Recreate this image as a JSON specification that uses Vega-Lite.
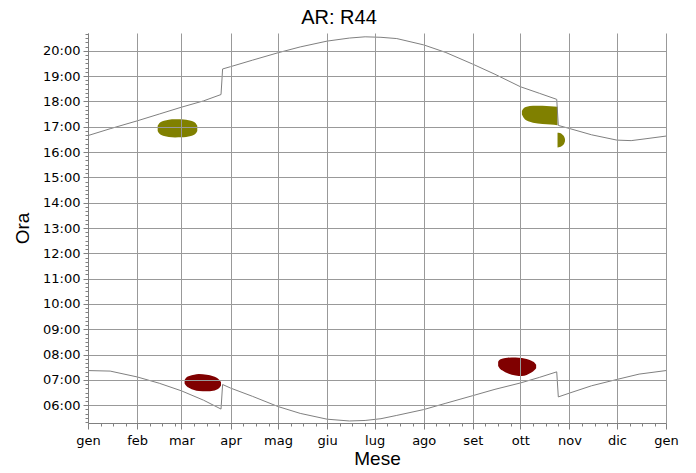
{
  "$schema": "https://vega.github.io/schema/vega-lite/v6.json",
  "width": 578,
  "height": 390,
  "autosize": "none",
  "padding": {"left": 88, "top": 33, "right": 30, "bottom": 50},
  "background": "white",
  "title": {"text": "AR: R44", "font": "Liberation Sans", "fontSize": 20, "fontWeight": "normal", "color": "#000000", "dx": -38, "dy": 9, "offset": 9},
  "datasets": {
    "curve": [
      {"evento": "tramonto", "data": "2023-01-01T00:00", "ora": 16.65},
      {"evento": "tramonto", "data": "2023-01-15T00:00", "ora": 16.92},
      {"evento": "tramonto", "data": "2023-02-01T00:00", "ora": 17.23},
      {"evento": "tramonto", "data": "2023-02-15T00:00", "ora": 17.50},
      {"evento": "tramonto", "data": "2023-03-01T00:00", "ora": 17.77},
      {"evento": "tramonto", "data": "2023-03-15T00:00", "ora": 18.02},
      {"evento": "tramonto", "data": "2023-03-26T00:00", "ora": 18.27},
      {"evento": "tramonto", "data": "2023-03-27T00:00", "ora": 19.28},
      {"evento": "tramonto", "data": "2023-04-01T00:00", "ora": 19.37},
      {"evento": "tramonto", "data": "2023-04-15T00:00", "ora": 19.63},
      {"evento": "tramonto", "data": "2023-05-01T00:00", "ora": 19.92},
      {"evento": "tramonto", "data": "2023-05-15T00:00", "ora": 20.15},
      {"evento": "tramonto", "data": "2023-06-01T00:00", "ora": 20.38},
      {"evento": "tramonto", "data": "2023-06-15T00:00", "ora": 20.50},
      {"evento": "tramonto", "data": "2023-06-25T00:00", "ora": 20.55},
      {"evento": "tramonto", "data": "2023-07-05T00:00", "ora": 20.53},
      {"evento": "tramonto", "data": "2023-07-15T00:00", "ora": 20.48},
      {"evento": "tramonto", "data": "2023-08-01T00:00", "ora": 20.23},
      {"evento": "tramonto", "data": "2023-08-15T00:00", "ora": 19.93},
      {"evento": "tramonto", "data": "2023-09-01T00:00", "ora": 19.47},
      {"evento": "tramonto", "data": "2023-09-15T00:00", "ora": 19.07},
      {"evento": "tramonto", "data": "2023-10-01T00:00", "ora": 18.58},
      {"evento": "tramonto", "data": "2023-10-13T00:00", "ora": 18.32},
      {"evento": "tramonto", "data": "2023-10-24T00:00", "ora": 18.08},
      {"evento": "tramonto", "data": "2023-10-25T00:00", "ora": 17.05},
      {"evento": "tramonto", "data": "2023-11-01T00:00", "ora": 16.93},
      {"evento": "tramonto", "data": "2023-11-15T00:00", "ora": 16.68},
      {"evento": "tramonto", "data": "2023-12-01T00:00", "ora": 16.47},
      {"evento": "tramonto", "data": "2023-12-10T00:00", "ora": 16.45},
      {"evento": "tramonto", "data": "2023-12-20T00:00", "ora": 16.53},
      {"evento": "tramonto", "data": "2024-01-01T00:00", "ora": 16.63},
      {"evento": "alba", "data": "2023-01-01T00:00", "ora": 7.37},
      {"evento": "alba", "data": "2023-01-15T00:00", "ora": 7.35},
      {"evento": "alba", "data": "2023-02-01T00:00", "ora": 7.12},
      {"evento": "alba", "data": "2023-02-15T00:00", "ora": 6.87},
      {"evento": "alba", "data": "2023-03-01T00:00", "ora": 6.57},
      {"evento": "alba", "data": "2023-03-15T00:00", "ora": 6.20},
      {"evento": "alba", "data": "2023-03-26T00:00", "ora": 5.85},
      {"evento": "alba", "data": "2023-03-27T00:00", "ora": 6.82},
      {"evento": "alba", "data": "2023-04-01T00:00", "ora": 6.68},
      {"evento": "alba", "data": "2023-04-15T00:00", "ora": 6.35},
      {"evento": "alba", "data": "2023-05-01T00:00", "ora": 5.95},
      {"evento": "alba", "data": "2023-05-15T00:00", "ora": 5.68},
      {"evento": "alba", "data": "2023-06-01T00:00", "ora": 5.45},
      {"evento": "alba", "data": "2023-06-15T00:00", "ora": 5.38},
      {"evento": "alba", "data": "2023-06-25T00:00", "ora": 5.40},
      {"evento": "alba", "data": "2023-07-05T00:00", "ora": 5.47},
      {"evento": "alba", "data": "2023-07-15T00:00", "ora": 5.60},
      {"evento": "alba", "data": "2023-08-01T00:00", "ora": 5.83},
      {"evento": "alba", "data": "2023-08-15T00:00", "ora": 6.08},
      {"evento": "alba", "data": "2023-09-01T00:00", "ora": 6.38},
      {"evento": "alba", "data": "2023-09-15T00:00", "ora": 6.63},
      {"evento": "alba", "data": "2023-10-01T00:00", "ora": 6.88},
      {"evento": "alba", "data": "2023-10-13T00:00", "ora": 7.10},
      {"evento": "alba", "data": "2023-10-24T00:00", "ora": 7.32},
      {"evento": "alba", "data": "2023-10-25T00:00", "ora": 6.33},
      {"evento": "alba", "data": "2023-11-01T00:00", "ora": 6.48},
      {"evento": "alba", "data": "2023-11-15T00:00", "ora": 6.77},
      {"evento": "alba", "data": "2023-12-01T00:00", "ora": 7.02},
      {"evento": "alba", "data": "2023-12-15T00:00", "ora": 7.23},
      {"evento": "alba", "data": "2024-01-01T00:00", "ora": 7.37}
    ],
    "macchie": [
      {"macchia": "A", "tipo": "tramonto", "data": "2023-02-14T00:00", "ora": 16.835, "ora2": 17.035},
      {"macchia": "A", "tipo": "tramonto", "data": "2023-02-15T00:00", "ora": 16.73, "ora2": 17.14},
      {"macchia": "A", "tipo": "tramonto", "data": "2023-02-16T00:00", "ora": 16.685, "ora2": 17.185},
      {"macchia": "A", "tipo": "tramonto", "data": "2023-02-18T00:00", "ora": 16.635, "ora2": 17.235},
      {"macchia": "A", "tipo": "tramonto", "data": "2023-02-21T00:00", "ora": 16.597, "ora2": 17.273},
      {"macchia": "A", "tipo": "tramonto", "data": "2023-02-25T00:00", "ora": 16.578, "ora2": 17.292},
      {"macchia": "A", "tipo": "tramonto", "data": "2023-03-01T00:00", "ora": 16.58, "ora2": 17.29},
      {"macchia": "A", "tipo": "tramonto", "data": "2023-03-04T00:00", "ora": 16.597, "ora2": 17.273},
      {"macchia": "A", "tipo": "tramonto", "data": "2023-03-07T00:00", "ora": 16.635, "ora2": 17.235},
      {"macchia": "A", "tipo": "tramonto", "data": "2023-03-09T00:00", "ora": 16.685, "ora2": 17.185},
      {"macchia": "A", "tipo": "tramonto", "data": "2023-03-10T00:00", "ora": 16.73, "ora2": 17.14},
      {"macchia": "A", "tipo": "tramonto", "data": "2023-03-11T00:00", "ora": 16.835, "ora2": 17.035},
      {"macchia": "B", "tipo": "tramonto", "data": "2023-10-02T00:00", "ora": 17.48, "ora2": 17.62},
      {"macchia": "B", "tipo": "tramonto", "data": "2023-10-03T00:00", "ora": 17.36, "ora2": 17.72},
      {"macchia": "B", "tipo": "tramonto", "data": "2023-10-05T00:00", "ora": 17.24, "ora2": 17.79},
      {"macchia": "B", "tipo": "tramonto", "data": "2023-10-09T00:00", "ora": 17.16, "ora2": 17.83},
      {"macchia": "B", "tipo": "tramonto", "data": "2023-10-15T00:00", "ora": 17.11, "ora2": 17.83},
      {"macchia": "B", "tipo": "tramonto", "data": "2023-10-20T00:00", "ora": 17.09, "ora2": 17.81},
      {"macchia": "B", "tipo": "tramonto", "data": "2023-10-24T12:00", "ora": 17.06, "ora2": 17.79},
      {"macchia": "C", "tipo": "tramonto", "data": "2023-10-24T12:00", "ora": 16.18, "ora2": 16.76},
      {"macchia": "C", "tipo": "tramonto", "data": "2023-10-26T00:00", "ora": 16.20, "ora2": 16.75},
      {"macchia": "C", "tipo": "tramonto", "data": "2023-10-27T00:00", "ora": 16.23, "ora2": 16.72},
      {"macchia": "C", "tipo": "tramonto", "data": "2023-10-28T00:00", "ora": 16.28, "ora2": 16.66},
      {"macchia": "C", "tipo": "tramonto", "data": "2023-10-28T17:00", "ora": 16.34, "ora2": 16.60},
      {"macchia": "C", "tipo": "tramonto", "data": "2023-10-29T05:00", "ora": 16.43, "ora2": 16.51},
      {"macchia": "D", "tipo": "alba", "data": "2023-03-03T00:00", "ora": 6.86, "ora2": 7.00},
      {"macchia": "D", "tipo": "alba", "data": "2023-03-04T00:00", "ora": 6.77, "ora2": 7.09},
      {"macchia": "D", "tipo": "alba", "data": "2023-03-06T00:00", "ora": 6.68, "ora2": 7.16},
      {"macchia": "D", "tipo": "alba", "data": "2023-03-09T00:00", "ora": 6.60, "ora2": 7.21},
      {"macchia": "D", "tipo": "alba", "data": "2023-03-12T00:00", "ora": 6.56, "ora2": 7.23},
      {"macchia": "D", "tipo": "alba", "data": "2023-03-17T00:00", "ora": 6.55, "ora2": 7.21},
      {"macchia": "D", "tipo": "alba", "data": "2023-03-21T00:00", "ora": 6.57, "ora2": 7.15},
      {"macchia": "D", "tipo": "alba", "data": "2023-03-23T00:00", "ora": 6.61, "ora2": 7.10},
      {"macchia": "D", "tipo": "alba", "data": "2023-03-25T00:00", "ora": 6.69, "ora2": 7.00},
      {"macchia": "D", "tipo": "alba", "data": "2023-03-26T00:00", "ora": 6.78, "ora2": 6.91},
      {"macchia": "E", "tipo": "alba", "data": "2023-09-17T00:00", "ora": 7.55, "ora2": 7.72},
      {"macchia": "E", "tipo": "alba", "data": "2023-09-18T00:00", "ora": 7.45, "ora2": 7.80},
      {"macchia": "E", "tipo": "alba", "data": "2023-09-20T00:00", "ora": 7.36, "ora2": 7.85},
      {"macchia": "E", "tipo": "alba", "data": "2023-09-23T00:00", "ora": 7.26, "ora2": 7.88},
      {"macchia": "E", "tipo": "alba", "data": "2023-09-28T00:00", "ora": 7.18, "ora2": 7.89},
      {"macchia": "E", "tipo": "alba", "data": "2023-10-02T00:00", "ora": 7.16, "ora2": 7.87},
      {"macchia": "E", "tipo": "alba", "data": "2023-10-05T00:00", "ora": 7.20, "ora2": 7.83},
      {"macchia": "E", "tipo": "alba", "data": "2023-10-08T00:00", "ora": 7.29, "ora2": 7.76},
      {"macchia": "E", "tipo": "alba", "data": "2023-10-10T00:00", "ora": 7.39, "ora2": 7.68},
      {"macchia": "E", "tipo": "alba", "data": "2023-10-11T00:00", "ora": 7.46, "ora2": 7.60}
    ]
  },
  "encoding": {
    "x": {
      "field": "data", "type": "temporal",
      "scale": {"domain": [{"year": 2023, "month": 1, "date": 1}, {"year": 2024, "month": 1, "date": 1}], "nice": false},
      "axis": {
        "title": "Mese", "tickCount": {"interval": "day", "step": 8},
        "labelExpr": "date(datum.value) === 1 ? ['gen','feb','mar','apr','mag','giu','lug','ago','set','ott','nov','dic'][month(datum.value)] : ''",
        "grid": true, "gridColor": "#999999", "gridWidth": 1,
        "gridOpacity": {"condition": {"test": "date(datum.value) === 1", "value": 1}, "value": 0},
        "tickSize": {"condition": {"test": "date(datum.value) === 1", "value": 6}, "value": 3},
        "domainColor": "#808080", "tickColor": "#808080",
        "labelFont": "DejaVu Sans", "labelFontSize": 13, "labelColor": "#000000", "labelPadding": 5, "labelFlush": false, "labelOverlap": false, "labelBound": false,
        "titleFont": "Liberation Sans", "titleFontSize": 19, "titleFontWeight": "normal", "titleColor": "#000000", "titlePadding": 2,
        "zindex": 1
      }
    },
    "y": {
      "field": "ora", "type": "quantitative",
      "scale": {"domain": [5.3, 20.7], "nice": false, "zero": false},
      "axis": {
        "title": "Ora",
        "values": [5.3333, 5.5, 5.6667, 5.8333, 6, 6.1667, 6.3333, 6.5, 6.6667, 6.8333, 7, 7.1667, 7.3333, 7.5, 7.6667, 7.8333, 8, 8.1667, 8.3333, 8.5, 8.6667, 8.8333, 9, 9.1667, 9.3333, 9.5, 9.6667, 9.8333, 10, 10.1667, 10.3333, 10.5, 10.6667, 10.8333, 11, 11.1667, 11.3333, 11.5, 11.6667, 11.8333, 12, 12.1667, 12.3333, 12.5, 12.6667, 12.8333, 13, 13.1667, 13.3333, 13.5, 13.6667, 13.8333, 14, 14.1667, 14.3333, 14.5, 14.6667, 14.8333, 15, 15.1667, 15.3333, 15.5, 15.6667, 15.8333, 16, 16.1667, 16.3333, 16.5, 16.6667, 16.8333, 17, 17.1667, 17.3333, 17.5, 17.6667, 17.8333, 18, 18.1667, 18.3333, 18.5, 18.6667, 18.8333, 19, 19.1667, 19.3333, 19.5, 19.6667, 19.8333, 20, 20.1667, 20.3333, 20.5, 20.6667],
        "labelExpr": "abs(datum.value - round(datum.value)) < 0.01 ? (round(datum.value) < 10 ? '0' : '') + round(datum.value) + ':00' : ''",
        "grid": true, "gridColor": "#999999", "gridWidth": 1,
        "gridOpacity": {"condition": {"test": "abs(datum.value - round(datum.value)) < 0.01", "value": 1}, "value": 0},
        "tickSize": {"condition": {"test": "abs(datum.value - round(datum.value)) < 0.01", "value": 5}, "value": 3},
        "domainColor": "#808080", "tickColor": "#808080",
        "labelFont": "DejaVu Sans", "labelFontSize": 13, "labelColor": "#000000", "labelPadding": 3, "labelOverlap": false, "labelBound": false,
        "titleFont": "Liberation Sans", "titleFontSize": 19, "titleFontWeight": "normal", "titleColor": "#000000", "titlePadding": 10,
        "zindex": 1
      }
    }
  },
  "layer": [
    {
      "data": {"name": "macchie"},
      "mark": {"type": "area", "interpolate": "monotone", "opacity": 1},
      "encoding": {
        "y2": {"field": "ora2"},
        "color": {"field": "tipo", "type": "nominal", "scale": {"domain": ["tramonto", "alba"], "range": ["#808000", "#800000"]}, "legend": null},
        "detail": {"field": "macchia"}
      }
    },
    {
      "data": {"name": "curve"},
      "mark": {"type": "line", "color": "#808080", "strokeWidth": 1},
      "encoding": {
        "detail": {"field": "evento"}
      }
    }
  ],
  "config": {"view": {"stroke": null}, "font": "DejaVu Sans"}
}
